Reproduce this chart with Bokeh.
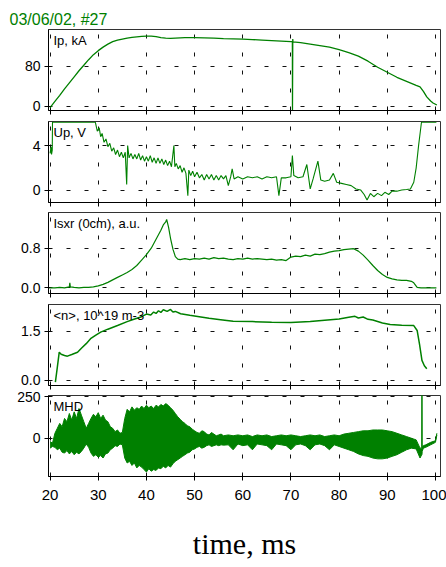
from bokeh.plotting import figure
from bokeh.layouts import column
from bokeh.models import Range1d, FixedTicker, Label, NumeralTickFormatter, CustomLabelingPolicy
from bokeh.embed import file_html
from bokeh.resources import INLINE

# ---------------- data ----------------
x_ticks = [20, 30, 40, 50, 60, 70, 80, 90, 100]

# Ip, kA
t_ip = [20.0, 20.2, 21, 22, 23, 24, 25, 26, 27, 28,
        29, 30, 31, 32, 33, 34, 35, 36, 37, 38,
        39, 40, 41, 42, 43, 44, 45, 46, 48, 50,
        52, 54, 56, 58, 60, 62, 64, 66, 68, 70,
        70.3, 70.32, 70.38, 70.42, 72, 74, 76, 78, 80, 82,
        84, 86, 88, 90, 92, 94, 96, 96.8, 97.5, 98.2,
        99, 99.5, 100.3]
ip = [-3, 0, 10, 22, 35, 47, 59, 71, 82, 93,
      103, 111, 118, 124, 129, 132, 134, 136, 137.5, 138.5,
      139.5, 140, 140, 139, 137, 136, 135.5, 136, 137, 137,
      136.5, 136, 135, 134.5, 134, 133, 132, 131, 130, 129,
      129, -8, 134, 128.5, 127, 124, 121, 118, 113, 107,
      100, 90, 78, 68, 58, 50, 42, 39, 30, 19,
      11, 7, 3]

# Up, V
t_up = [20.0, 20.2, 20.3, 20.45, 20.5, 29.4, 29.8, 30.2, 30.5, 30.8,
        31.2, 31.6, 32.0, 32.4, 32.8, 33.2, 33.6, 34.0, 34.4, 34.8,
        35.2, 35.6, 35.9, 36.1, 36.4, 36.8, 37.2, 37.6, 38.0, 38.4,
        38.8, 39.2, 39.6, 40.0, 40.4, 40.8, 41.2, 41.6, 42.0, 42.4,
        42.8, 43.2, 43.6, 44.0, 44.4, 44.8, 45.2, 45.7, 45.9, 46.2,
        46.6, 47.0, 47.4, 47.8, 48.2, 48.6, 48.8, 49.2, 49.6, 50.0,
        50.5, 51.0, 51.5, 52.0, 52.5, 53.0, 53.5, 54.0, 54.5, 55.0,
        55.5, 56.0, 56.5, 57.0, 57.5, 57.8, 58.2, 59.0, 60.0, 61.0,
        62.0, 63.0, 64.0, 65.0, 66.0, 67.0, 67.5, 68.0, 69.0, 70.0,
        70.3, 70.6, 71.5, 72.5, 73.3, 74.0, 74.6, 75.6, 76.2, 77.0,
        78.0, 78.8, 79.5, 80.5, 81.5, 82.5, 83.5, 84.5, 85.2, 85.8,
        86.5, 87.2, 88.0, 88.8, 89.5, 90.3, 91.0, 92.0, 93.0, 94.0,
        94.8, 95.5, 96.0, 96.5, 96.9, 97.1, 100.2]
up = [3.3, 3.9, 3.2, 3.6, 6.1, 6.1, 5.3, 5.6, 4.8, 5.1,
      4.3, 4.6, 3.9, 4.2, 3.5, 3.8, 3.2, 3.6, 3.0, 3.4,
      2.9, 3.4, 0.5, 4.0, 2.9, 3.3, 2.8, 3.2, 2.8, 3.3,
      2.7, 3.1, 2.6, 3.0, 2.6, 3.1, 2.5, 2.9, 2.4, 2.9,
      2.4, 2.8, 2.3, 2.7, 2.2, 2.6, 2.1, 4.0, 2.1, 2.4,
      1.9, 2.2, 1.6, 2.0, 1.5, -0.5, 1.8, 1.3, 1.7, 1.2,
      1.6, 1.1, 1.4, 0.9, 1.4, 1.0, 1.4, 0.9, 1.3, 0.9,
      1.3, 1.0, 1.3, 0.4, 1.2, 1.9, 1.0, 1.2, 1.0, 1.2,
      1.1, 1.2, 1.0, 1.2, 1.1, 1.2, -0.5, 1.1, 1.1, 1.2,
      3.1, 1.3, 1.1, 1.2, 2.3, 0.1, 1.0, 2.6, 0.9, 0.8,
      0.9, 1.5, 0.7, 0.6, 0.5, 0.4, 0.1, 0.0, -0.4, -0.9,
      -0.3, -0.6, -0.3, -0.5, -0.2, -0.4, -0.1, -0.1, 0.0, 0.05,
      0.1, 0.7, 2.0, 4.0, 5.4, 6.1, 6.1]

# Isxr (0cm), a.u.
t_sxr = [19.8, 21, 22, 23, 24, 24.1, 24.2, 25, 26, 27,
         28, 29, 30, 31, 32, 33, 34, 35, 36, 37,
         38, 39, 40, 41, 42, 43, 43.5, 44, 44.2, 44.4,
         44.6, 45, 45.5, 46, 46.5, 47, 48, 49, 50, 51,
         52, 53, 54, 55, 56, 57, 58, 59, 60, 61,
         62, 63, 64, 65, 66, 67, 68, 69, 70, 71,
         72, 73, 74, 75, 76, 77, 78, 79, 80, 81,
         82, 83, 84, 85, 86, 87, 88, 89, 90, 91,
         92, 93, 94, 95, 95.5, 96.2, 97, 100.2]
sxr = [0.0, 0.0, 0.01, 0.0, 0.02, 0.1, 0.02, 0.01, 0.0, 0.01,
       0.01, 0.02, 0.04, 0.07, 0.11, 0.16, 0.21, 0.26, 0.31, 0.37,
       0.45, 0.56, 0.67, 0.8, 0.98, 1.16, 1.27, 1.33, 1.38, 1.30,
       1.22, 1.0, 0.78, 0.63, 0.58, 0.57, 0.59, 0.57, 0.59, 0.58,
       0.60, 0.58, 0.61, 0.59, 0.60, 0.58, 0.57, 0.59, 0.58, 0.60,
       0.58, 0.59, 0.58, 0.57, 0.58, 0.56, 0.57, 0.55, 0.62, 0.64,
       0.63, 0.66, 0.64, 0.68, 0.67, 0.69, 0.72, 0.74, 0.75, 0.77,
       0.78, 0.79, 0.74, 0.66, 0.56, 0.45, 0.35, 0.27, 0.21, 0.18,
       0.16, 0.15, 0.15, 0.13, 0.1, 0.01, 0.0, 0.0]

# <n>, 10^19 m-3
t_n = [21.1, 21.5, 21.9, 22.3, 23.0, 23.6, 24.5, 25.7, 26.5, 27.5,
       28.4, 29.5, 30.5, 32, 34, 36, 37.4, 39, 40, 40.9,
       41.5, 42, 42.5, 43, 43.5, 44.3, 45, 45.5, 46, 47.1,
       49, 51.3, 53, 55.4, 58, 62, 66, 70, 74, 77,
       80, 82, 83.3, 84, 85, 86, 87, 89, 90.6, 93,
       95.5, 96.2, 96.7, 97.2, 97.7, 98.2]
dens = [-0.05, 0.4, 0.86, 0.80, 0.76, 0.74, 0.79, 0.86, 0.98, 1.12,
        1.27, 1.38, 1.47, 1.56, 1.67, 1.79, 1.86, 1.94, 2.02, 1.99,
        2.08, 2.04, 2.12, 2.07, 2.15, 2.10, 2.16, 2.08, 2.10, 2.03,
        1.98, 1.93, 1.89, 1.85, 1.80, 1.79, 1.77, 1.76, 1.79, 1.83,
        1.87, 1.92, 1.95, 1.90, 1.93, 1.86, 1.84, 1.75, 1.70, 1.68,
        1.67, 1.52, 1.10, 0.61, 0.45, 0.36]

# MHD (upper and lower envelope of the oscillation)
t_mhd = [20.0, 20.5, 21.0, 21.5, 22.0, 22.5, 23.0, 23.5, 24.0, 24.5,
         25.0, 25.5, 26.0, 26.5, 27.0, 27.5, 28.0, 28.5, 29.0, 29.5,
         30.0, 30.5, 31.0, 31.5, 32.0, 32.5, 33.0, 33.5, 34.0, 34.5,
         35.0, 35.5, 36.0, 36.5, 37.0, 37.5, 38.0, 38.5, 39.0, 39.5,
         40.0, 40.5, 41.0, 41.5, 42.0, 42.5, 43.0, 43.5, 44.0, 44.5,
         45.0, 45.5, 46.0, 46.5, 47.0, 47.5, 48.0, 48.5, 49.0, 49.5,
         50.0, 50.5, 51.0, 51.5, 52.0, 52.5, 53.0, 53.5, 54.0, 54.5,
         55.0, 55.5, 56.0, 57, 58, 59, 60, 61, 62, 63,
         64, 65, 66, 67, 68, 69, 70, 71, 72, 73,
         74, 75, 76, 77, 78, 79, 80, 81, 82, 83,
         84, 85, 86, 87, 88, 89, 90, 91, 92, 93,
         94, 95, 96, 96.8, 97.15, 97.2, 97.25, 97.5, 98, 99,
         100, 100.3]
mhd_hi = [-20, -30, 30, 60, 90, 70, 120, 100, 150, 110,
          160, 120, 180, 140, 100, 60, 90, 120, 145, 130,
          155, 120, 140, 110, 100, 70, 60, 40, 50, 30,
          35, 120, 175, 160, 190, 170, 185, 175, 195, 180,
          200, 185, 195, 180, 200, 190, 205, 195, 210, 200,
          185, 170, 150, 130, 115, 100, 90, 75, 70, 55,
          45, 35, 30, 45, 40, 25, 20, 35, 25, 15,
          20, 25, 15, 20, 15, 20, 15, 20, 10, 20,
          15, 20, 10, 15, 20, 15, 20, 15, 10, 15,
          20, 15, 20, 10, 15, 20, 15, 25, 30, 35,
          40, 45, 45, 50, 50, 50, 45, 40, 30, 20,
          10, 0, -10, -60, -60, 400, -50, -45, -40, -25,
          -15, 30]
mhd_lo = [-60, -50, -55, -70, -60, -85, -90, -75, -95, -80,
          -100, -85, -95, -80, -60, -35, -55, -90, -110, -100,
          -115, -105, -120, -95, -90, -70, -60, -45, -50, -35,
          -40, -120, -150, -140, -165, -150, -180, -165, -175, -190,
          -205, -185, -200, -190, -195, -180, -185, -170, -180, -165,
          -175, -155, -140, -130, -120, -110, -100, -90, -85, -70,
          -65, -55, -50, -60, -55, -45, -40, -50, -45, -40,
          -45, -40, -42, -40, -70, -35, -45, -40, -70, -35,
          -40, -45, -70, -35, -40, -45, -70, -40, -35, -45,
          -70, -40, -35, -45, -70, -40, -50, -60, -70, -80,
          -95, -105, -110, -120, -125, -125, -120, -110, -100, -85,
          -70, -60, -65, -120, -100, -100, -80, -60, -55, -40,
          -25, 20]

# panel definitions: label, y range, y ticks
labels = ["Ip, kA", "Up, V", "Isxr (0cm), a.u.", "<n>, 10^19 m-3", "MHD"]
y_ranges = [(-8, 153), (-1.12, 6.17), (-0.115, 1.52), (-0.152, 2.31), (-232, 259)]
y_ticks = [[0, 80], [0, 4], [0.0, 0.8], [0.0, 1.5], [0, 250]]
tick_formats = [None, None, "0.0", "0.0", None]

GREEN = "#008000"
FONT = "Liberation Sans"

borders = [(29, 5), (6, 5), (5, 5), (6, 5), (5, 90)]

figs = []
for i in range(5):
    top, bottom = borders[i]
    p = figure(frame_width=392, frame_height=81,
               x_range=Range1d(19.67, 101.05), y_range=Range1d(*y_ranges[i]),
               output_backend="svg", toolbar_location=None,
               min_border_left=48, min_border_right=6,
               min_border_top=top, min_border_bottom=bottom)
    p.outline_line_color = "#333333"
    p.outline_line_width = 1
    p.background_fill_color = "white"
    p.border_fill_color = "white"

    p.xaxis.ticker = FixedTicker(ticks=x_ticks)
    p.yaxis.ticker = FixedTicker(ticks=y_ticks[i])
    p.xgrid.ticker = FixedTicker(ticks=x_ticks)
    p.ygrid.ticker = FixedTicker(ticks=y_ticks[i])
    for g in (p.xgrid, p.ygrid):
        g.grid_line_color = "#111111"
        g.grid_line_dash = "4 14"
        g.grid_line_width = 1
    for ax in (p.xaxis, p.yaxis):
        ax.axis_line_color = "black"
        ax.major_tick_line_color = "black"
        ax.minor_tick_line_color = None
        ax.major_tick_out = 4
        ax.major_tick_in = 2
        ax.major_label_text_font = FONT
        ax.major_label_text_color = "black"
    p.yaxis.major_label_text_font_size = "14px"
    p.yaxis.major_label_standoff = 4
    if tick_formats[i]:
        p.yaxis.formatter = NumeralTickFormatter(format=tick_formats[i])

    if i < 4:
        # tick marks only, no tick labels on the upper panels
        p.xaxis.major_label_policy = CustomLabelingPolicy(code="return []")
        p.xaxis.major_label_text_font_size = "0px"
        p.xaxis.major_label_standoff = 0
    else:
        p.xaxis.major_label_text_font_size = "15px"
        p.xaxis.major_label_standoff = 9
        p.xaxis.axis_label = "time, ms"
        p.xaxis.axis_label_text_font = "Liberation Serif"
        p.xaxis.axis_label_text_font_size = "30px"
        p.xaxis.axis_label_text_font_style = "normal"
        p.xaxis.axis_label_text_color = "black"
        p.xaxis.axis_label_standoff = 24

    p.add_layout(Label(x=19.67, y=y_ranges[i][1], x_offset=5, y_offset=-3,
                       text=labels[i], text_font=FONT, text_font_size="13px",
                       text_color="black", text_baseline="top"))
    figs.append(p)

# traces
figs[0].line(t_ip, ip, line_color=GREEN, line_width=1.3)
figs[1].line(t_up, up, line_color=GREEN, line_width=1.1)
figs[2].line(t_sxr, sxr, line_color=GREEN, line_width=1.2)
figs[3].line(t_n, dens, line_color=GREEN, line_width=1.5)
figs[4].varea(x=t_mhd, y1=mhd_lo, y2=mhd_hi, fill_color=GREEN, fill_alpha=1.0)
figs[4].line(t_mhd, mhd_hi, line_color=GREEN, line_width=1)
figs[4].line(t_mhd, mhd_lo, line_color=GREEN, line_width=1)

# title
figs[0].title.text = "03/06/02, #27"
figs[0].title.text_color = GREEN
figs[0].title.text_font = FONT
figs[0].title.text_font_size = "16px"
figs[0].title.text_font_style = "normal"
figs[0].title.align = "left"
figs[0].title.offset = -39
figs[0].title.standoff = 4

layout = column(*figs, spacing=0)
open("out.html", "w").write(file_html(layout, INLINE))
